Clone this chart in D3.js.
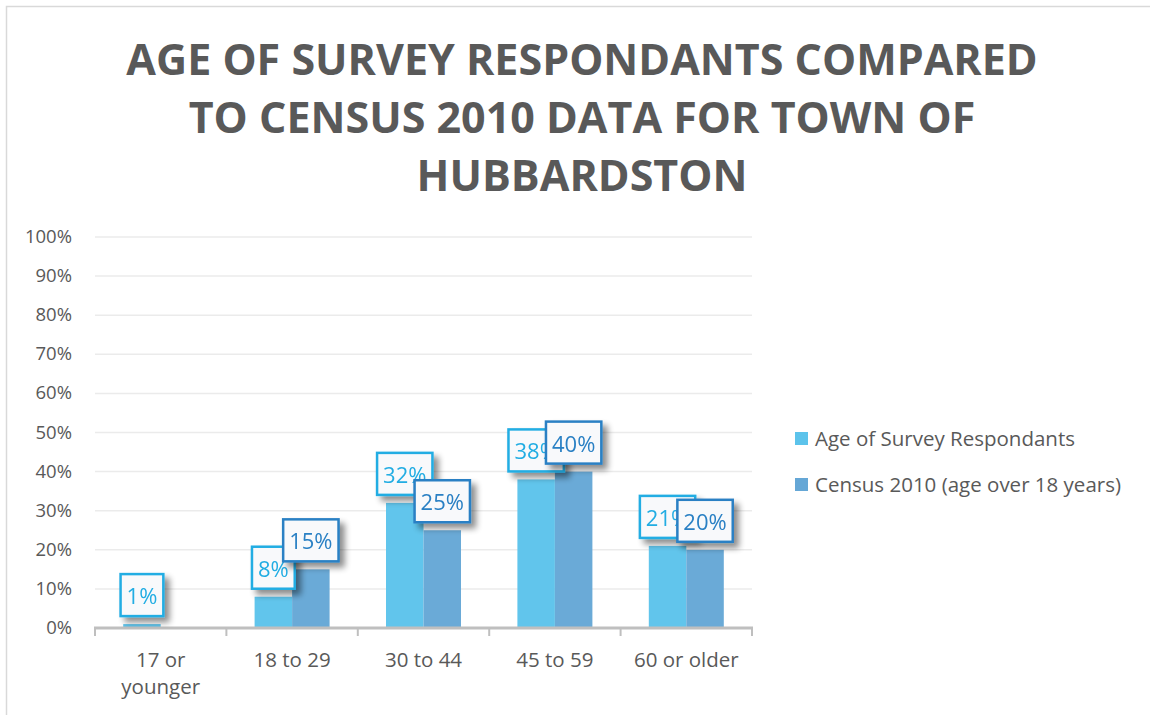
<!DOCTYPE html>
<html lang="en">
<head>
<meta charset="UTF-8">
<title>Age of Survey Respondants</title>
<script src="https://d3js.org/d3.v7.min.js"></script>
<style>
  body { margin: 0; background: #fff; }
  text { font-family: "Open Sans", "DejaVu Sans", sans-serif; }
</style>
</head>
<body>
<svg width="1150" height="715"></svg>
<script>
    // data
    var categories = [["17 or", "younger"], ["18 to 29"], ["30 to 44"], ["45 to 59"], ["60 or older"]];
    var seriesNames = ["Age of Survey Respondants", "Census 2010 (age over 18 years)"];
    var surveyValues = [1, 8, 32, 38, 21];
    var censusValues = [null, 15, 25, 40, 20];
    var yTicks = [0, 10, 20, 30, 40, 50, 60, 70, 80, 90, 100];
    var titleLines = ["AGE OF SURVEY RESPONDANTS COMPARED", "TO CENSUS 2010 DATA FOR TOWN OF", "HUBBARDSTON"];

    var fills = ["#5cc3eb", "#65a7d6"];
    var strokes = ["#22ade3", "#2a80c4"];

    var svg = d3.select("svg");
    var plot = {left: 95, right: 752, top: 237, bottom: 628};

    // outer frame
    svg.append("rect")
        .attr("x", 6.5).attr("y", 6.5)
        .attr("width", 1160).attr("height", 720)
        .attr("fill", "none")
        .attr("stroke", "#d9d9d9")
        .attr("stroke-width", 1.5);

    // shadow filter for the data labels
    var defs = svg.append("defs");
    var f = defs.append("filter").attr("id", "shadow")
        .attr("x", "-30%").attr("y", "-30%").attr("width", "170%").attr("height", "170%");
    f.append("feGaussianBlur").attr("in", "SourceAlpha").attr("stdDeviation", 3).attr("result", "b");
    f.append("feOffset").attr("in", "b").attr("dx", 5).attr("dy", 5).attr("result", "o");
    f.append("feComponentTransfer").attr("in", "o").attr("result", "s")
        .append("feFuncA").attr("type", "linear").attr("slope", 0.45);
    var m = f.append("feMerge");
    m.append("feMergeNode").attr("in", "s");
    m.append("feMergeNode").attr("in", "SourceGraphic");

    // title
    svg.append("g").selectAll("text")
        .data(titleLines)
        .enter().append("text")
        .attr("x", 582)
        .attr("y", function (d, i) { return 75 + i * 58; })
        .attr("text-anchor", "middle")
        .attr("font-size", 43)
        .attr("font-weight", "bold")
        .attr("fill", "#595959")
        .text(function (d) { return d; });

    var x0 = d3.scaleBand()
        .domain(d3.range(categories.length))
        .range([plot.left, plot.right]);

    var x1 = d3.scaleBand()
        .domain([0, 1])
        .range([0, 75])
        .paddingInner(0);

    var y = d3.scaleLinear()
        .domain([0, 100])
        .range([plot.bottom, plot.top]);

    // gridlines
    svg.append("g").selectAll("line")
        .data(yTicks.slice(1))
        .enter().append("line")
        .attr("x1", plot.left).attr("x2", plot.right)
        .attr("y1", function (d) { return y(d); })
        .attr("y2", function (d) { return y(d); })
        .attr("stroke", "#ebebeb")
        .attr("stroke-width", 1.5);

    // y tick labels
    svg.append("g").selectAll("text")
        .data(yTicks)
        .enter().append("text")
        .attr("x", 72)
        .attr("y", function (d) { return y(d) + 6; })
        .attr("text-anchor", "end")
        .attr("font-size", 18.5)
        .attr("fill", "#595959")
        .text(function (d) { return d + "%"; });

    var series = [surveyValues, censusValues];

    // bars
    series.forEach(function (vals, s) {
        svg.append("g").selectAll("rect")
            .data(vals.map(function (v, i) { return {i: i, v: v}; }).filter(function (d) { return d.v != null; }))
            .enter().append("rect")
            .attr("x", function (d) { return x0(d.i) + x0.bandwidth() / 2 - 37.5 + x1(s); })
            .attr("y", function (d) { return y(d.v); })
            .attr("width", x1.bandwidth())
            .attr("height", function (d) { return y(0) - y(d.v); })
            .attr("fill", fills[s])
            .attr("fill-opacity", 0.97);
    });

    // x axis line with ticks
    var ax = svg.append("g").attr("stroke", "#bfbfbf");
    ax.append("line")
        .attr("x1", plot.left - 1).attr("x2", plot.right + 1)
        .attr("y1", plot.bottom).attr("y2", plot.bottom)
        .attr("stroke-width", 3);
    ax.selectAll(".tk")
        .data(d3.range(categories.length + 1))
        .enter().append("line")
        .attr("x1", function (d) { return plot.left + d * x0.step(); })
        .attr("x2", function (d) { return plot.left + d * x0.step(); })
        .attr("y1", plot.bottom).attr("y2", plot.bottom + 8)
        .attr("stroke-width", 2);

    // category labels
    var cl = svg.append("g").selectAll("text")
        .data(categories)
        .enter().append("text")
        .attr("text-anchor", "middle")
        .attr("font-size", 20.5)
        .attr("fill", "#595959");
    cl.selectAll("tspan")
        .data(function (d, i) { return d.map(function (t) { return {t: t, i: i}; }); })
        .enter().append("tspan")
        .attr("x", function (d) { return x0(d.i) + x0.bandwidth() / 2; })
        .attr("y", function (d, j) { return 667 + j * 27; })
        .text(function (d) { return d.t; });

    // data labels (boxes)
    series.forEach(function (vals, s) {
        var g = svg.append("g");
        vals.forEach(function (v, i) {
            if (v == null) return;
            var cx = x0(i) + x0.bandwidth() / 2 - 37.5 + x1(s) + x1.bandwidth() / 2;
            var lab = g.append("g").attr("filter", "url(#shadow)");
            var rect = lab.append("rect");
            var t = lab.append("text")
                .attr("x", cx)
                .attr("y", y(v) - 20)
                .attr("text-anchor", "middle")
                .attr("font-size", 22)
                .attr("fill", strokes[s])
                .text(v + "%");
            var w = t.node().getComputedTextLength() + 12;
            rect.attr("x", cx - w / 2)
                .attr("y", y(v) - 50)
                .attr("width", w)
                .attr("height", 42)
                .attr("fill", "#f8f9fb")
                .attr("stroke", strokes[s])
                .attr("stroke-width", 2.5);
        });
    });

    // legend
    var legend = svg.append("g").selectAll("g")
        .data(seriesNames)
        .enter().append("g")
        .attr("transform", function (d, i) { return "translate(795," + (432 + i * 46) + ")"; });
    legend.append("rect")
        .attr("width", 13).attr("height", 13)
        .attr("fill", function (d, i) { return fills[i]; });
    legend.append("text")
        .attr("x", 20).attr("y", 14)
        .attr("font-size", 20.5)
        .attr("fill", "#595959")
        .text(function (d) { return d; });
</script>
</body>
</html>
